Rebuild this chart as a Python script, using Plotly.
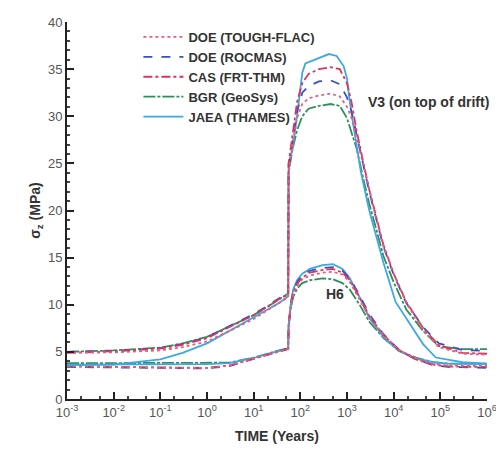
import plotly.graph_objects as go

# ---------------- data ----------------
# V3 (on top of drift)
t_pre = [0.001, 0.01, 0.1, 0.3, 1, 3, 10, 20, 35, 55]
t_post_v3 = [55, 56, 68, 85, 110, 150, 250, 450, 700, 1000, 1250, 1600, 2300, 3000, 4300,
             6000, 10000, 18600, 43000, 93000, 300000, 1000000]

v3_tough_pre = [4.9, 4.95, 5.15, 5.5, 6.1, 7.2, 8.5, 9.4, 10.2, 10.8]
v3_rocmas_pre = [5.0, 5.1, 5.4, 5.85, 6.55, 7.7, 9.0, 9.9, 10.7, 11.3]
v3_cas_pre = [4.9, 5.05, 5.35, 5.75, 6.45, 7.6, 8.9, 9.8, 10.6, 11.1]
v3_bgr_pre = [5.0, 5.15, 5.45, 5.9, 6.6, 7.7, 8.9, 9.8, 10.6, 11.2]
v3_jaea_pre = [3.6, 3.65, 4.2, 4.9, 5.9, 7.2, 8.6, 9.5, 10.2, 10.9]

v3_tough_post = [10.8, 24.0, 27.0, 29.8, 31.3, 31.9, 32.2, 32.4, 32.1, 31.0, 29.8, 27.8, 24.5,
                 22.0, 19.0, 16.2, 13.3, 10.2, 7.3, 5.5, 4.8, 4.7]
v3_rocmas_post = [11.3, 24.5, 27.5, 30.5, 32.5, 33.2, 33.7, 33.8, 33.4, 32.0, 30.5, 28.0, 24.5,
                  22.0, 19.0, 16.2, 13.2, 10.2, 7.6, 5.9, 5.2, 5.1]
v3_cas_post = [11.1, 25.0, 28.0, 31.5, 33.5, 34.5, 35.0, 35.2, 35.0, 33.5, 31.5, 28.5, 24.8,
               22.2, 19.2, 16.4, 13.3, 10.3, 7.5, 5.7, 4.9, 4.8]
v3_bgr_post = [11.2, 24.0, 26.5, 28.5, 30.0, 30.8, 31.1, 31.3, 31.1, 29.8, 28.3, 26.6, 23.1,
               20.7, 17.9, 15.2, 12.4, 9.5, 7.2, 5.6, 5.3, 5.3]
t_post_v3_jaea = [55, 56, 68, 87, 110, 128, 230, 410, 600, 850, 1000, 1150, 1480, 2000, 3000,
                  4300, 6000, 11000, 21000, 43000, 80000, 300000, 1000000]
v3_jaea_post = [10.9, 25.0, 26.5, 30.4, 34.6, 35.6, 36.1, 36.6, 36.4, 35.3, 34.0, 31.5, 28.0,
                24.0, 20.0, 17.0, 14.5, 10.3, 8.2, 5.8, 4.4, 3.9, 3.75]

# H6
h6_tough_pre = [3.5, 3.4, 3.3, 3.3, 3.3, 3.55, 4.3, 4.75, 5.05, 5.3]
h6_rocmas_pre = [3.4, 3.35, 3.25, 3.2, 3.25, 3.5, 4.25, 4.75, 5.05, 5.35]
h6_cas_pre = [3.45, 3.4, 3.3, 3.25, 3.3, 3.55, 4.3, 4.75, 5.05, 5.3]
h6_bgr_pre = [3.8, 3.8, 3.8, 3.8, 3.8, 3.85, 4.4, 4.85, 5.15, 5.4]
h6_jaea_pre = [3.65, 3.65, 3.65, 3.65, 3.7, 3.8, 4.35, 4.8, 5.1, 5.35]

t_post_h6 = [55, 56, 62, 70, 85, 110, 160, 300, 500, 800, 1150, 1860, 3000, 6000, 13000,
             30000, 70000, 150000, 1000000]
h6_tough_post = [5.3, 7.6, 9.7, 11.0, 12.0, 12.7, 13.1, 13.4, 13.5, 13.2, 12.4, 10.6, 8.7,
                 6.8, 5.2, 4.3, 3.7, 3.55, 3.5]
h6_rocmas_post = [5.35, 7.8, 10.0, 11.4, 12.4, 13.1, 13.6, 13.9, 14.0, 13.6, 12.8, 11.0, 9.0,
                  6.9, 5.2, 4.2, 3.6, 3.4, 3.3]
h6_cas_post = [5.3, 7.7, 9.9, 11.2, 12.2, 12.9, 13.4, 13.7, 13.8, 13.4, 12.6, 10.8, 8.8,
               6.8, 5.2, 4.2, 3.65, 3.45, 3.4]
h6_bgr_post = [5.4, 7.5, 9.5, 10.8, 11.7, 12.3, 12.6, 12.8, 12.7, 12.3, 11.6, 10.0, 8.2,
               6.5, 5.1, 4.4, 3.9, 3.75, 3.75]
h6_jaea_post = [5.35, 7.8, 10.0, 11.6, 12.6, 13.3, 13.8, 14.2, 14.3, 13.8, 12.8, 10.8, 8.6,
                6.6, 5.1, 4.3, 3.9, 3.75, 3.7]

x_tickvals = [1e-3, 1e-2, 1e-1, 1e0, 1e1, 1e2, 1e3, 1e4, 1e5, 1e6]
x_ticktext = ["10<sup>-3</sup>", "10<sup>-2</sup>", "10<sup>-1</sup>", "10<sup>0</sup>",
              "10<sup>1</sup>", "10<sup>2</sup>", "10<sup>3</sup>", "10<sup>4</sup>",
              "10<sup>5</sup>", "10<sup>6</sup>"]

names = ["DOE (TOUGH-FLAC)", "DOE (ROCMAS)", "CAS (FRT-THM)", "BGR (GeoSys)", "JAEA (THAMES)"]
colors = ["#e4607e", "#3b4fc2", "#d9365c", "#2f8f5c", "#3ea8e2"]
dashes = ["dot", "dash", "dashdot", "12px,2px,3px,2px", "solid"]

v3 = [
    (t_pre + t_post_v3, v3_tough_pre + v3_tough_post),
    (t_pre + t_post_v3, v3_rocmas_pre + v3_rocmas_post),
    (t_pre + t_post_v3, v3_cas_pre + v3_cas_post),
    (t_pre + t_post_v3, v3_bgr_pre + v3_bgr_post),
    (t_pre + t_post_v3_jaea, v3_jaea_pre + v3_jaea_post),
]
h6 = [
    (t_pre + t_post_h6, h6_tough_pre + h6_tough_post),
    (t_pre + t_post_h6, h6_rocmas_pre + h6_rocmas_post),
    (t_pre + t_post_h6, h6_cas_pre + h6_cas_post),
    (t_pre + t_post_h6, h6_bgr_pre + h6_bgr_post),
    (t_pre + t_post_h6, h6_jaea_pre + h6_jaea_post),
]

fig = go.Figure()
order = [3, 4, 1, 2, 0]
for i in order:
    x, y = h6[i]
    fig.add_trace(go.Scatter(x=x, y=y, mode="lines", name=names[i], legendgroup=names[i],
                             showlegend=False,
                             line=dict(color=colors[i], width=1.8, dash=dashes[i])))
for i in order:
    x, y = v3[i]
    fig.add_trace(go.Scatter(x=x, y=y, mode="lines", name=names[i], legendgroup=names[i],
                             showlegend=True, legendrank=i + 1,
                             line=dict(color=colors[i], width=1.8, dash=dashes[i])))

fig.add_annotation(x=3.40, y=31.5, xref="x", yref="y", text="<b>V3 (on top of drift)</b>",
                   showarrow=False, xanchor="left", yanchor="middle",
                   font=dict(family="Liberation Sans", size=14, color="#333333"))
fig.add_annotation(x=2.74, y=11.1, xref="x", yref="y", text="<b>H6</b>",
                   showarrow=False, xanchor="center", yanchor="middle",
                   font=dict(family="Liberation Sans", size=14, color="#333333"))

# The page body adds an 8 px offset, so the figure is 8 px smaller than the window.
fig.update_layout(
    width=496, height=442,
    margin=dict(l=59, r=13, t=7, b=51),
    paper_bgcolor="white", plot_bgcolor="white",
    font=dict(family="Liberation Sans", size=12, color="#444444"),
    legend=dict(x=0.17, y=1.0, xanchor="left", yanchor="top", bgcolor="rgba(0,0,0,0)",
                font=dict(family="Liberation Sans", size=13, color="#333333", weight="bold"),
                tracegroupgap=0, itemwidth=40),
    xaxis=dict(type="log", range=[-3, 6], tickvals=x_tickvals, ticktext=x_ticktext,
               showline=True, linecolor="#222222", linewidth=2, showgrid=False, zeroline=False,
               ticks="inside", ticklen=7, tickcolor="#222222", tickwidth=1.5,
               ticklabeloverflow="allow",
               minor=dict(ticks="inside", ticklen=3, tickcolor="#444444", showgrid=False),
               tickfont=dict(size=13, color="#555555"),
               title=dict(text="<b>TIME (Years)</b>", standoff=13,
                          font=dict(size=14, color="#333333"))),
    yaxis=dict(range=[0, 40], dtick=5, tick0=0,
               showline=True, linecolor="#222222", linewidth=2, showgrid=False, zeroline=False,
               ticks="inside", ticklen=7, tickcolor="#222222", tickwidth=1.5,
               ticklabeloverflow="allow",
               minor=dict(dtick=1, ticks="inside", ticklen=3, tickcolor="#444444", showgrid=False),
               tickfont=dict(size=13, color="#555555"),
               title=dict(text="<b>σ<sub>z</sub> (MPa)</b>", standoff=4,
                          font=dict(size=14, color="#333333"))),
)

fig.write_html("out.html")
